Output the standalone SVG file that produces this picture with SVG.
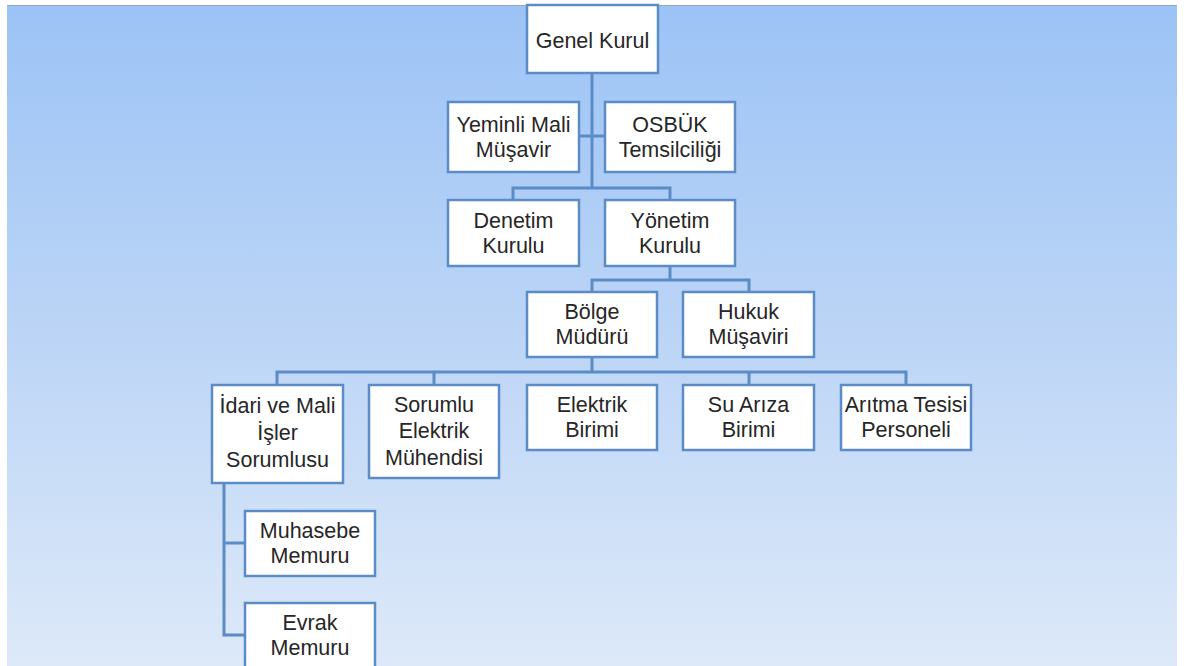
<svg xmlns="http://www.w3.org/2000/svg" width="1184" height="666" viewBox="0 0 1184 666">
<defs>
<linearGradient id="bg" x1="0" y1="0" x2="0" y2="1">
<stop offset="0" stop-color="#9cc3f6"/>
<stop offset="0.5" stop-color="#bcd5f6"/>
<stop offset="1" stop-color="#dde9f9"/>
</linearGradient>
<style>
.box{fill:#ffffff;stroke:#5b8cc6;stroke-width:2.5}
.ln{fill:none;stroke:#5b8cc6;stroke-width:3}
text{font-family:"Liberation Sans",Arial,sans-serif;font-size:21.5px;fill:#262626;text-anchor:middle}
</style>
</defs>
<rect x="0" y="0" width="1184" height="666" fill="#ffffff"/>
<rect x="7" y="5" width="1170" height="661" fill="url(#bg)"/>
<line x1="7" y1="5.5" x2="1177" y2="5.5" stroke="#9aa6b4" stroke-width="1"/>
<g id="connectors">
<path class="ln" d="M592,73 V188 M579,136 H605 M513,200 V188 H670 V200"/>
<path class="ln" d="M670,266 V280 M592,292 V280 H749 V292"/>
<path class="ln" d="M592,357 V372 M277,385 V372 H906 V385 M434,372 V385 M749,372 V385"/>
<path class="ln" d="M224,483 V635 H245 M224,543 H245"/>
</g>
<g id="genel-kurul"><rect class="box" x="527" y="5" width="131" height="68"/><text x="592.5" y="48">Genel Kurul</text></g>
<g id="yeminli-mali-musavir"><rect class="box" x="448" y="102" width="131" height="70"/><text x="513.5" y="132">Yeminli Mali</text><text x="513.5" y="157">Müşavir</text></g>
<g id="osbuk-temsilciligi"><rect class="box" x="605" y="102" width="130" height="70"/><text x="670" y="132">OSBÜK</text><text x="670" y="157">Temsilciliği</text></g>
<g id="denetim-kurulu"><rect class="box" x="448" y="200" width="131" height="66"/><text x="513.5" y="228">Denetim</text><text x="513.5" y="253">Kurulu</text></g>
<g id="yonetim-kurulu"><rect class="box" x="605" y="200" width="130" height="66"/><text x="670" y="228">Yönetim</text><text x="670" y="253">Kurulu</text></g>
<g id="bolge-muduru"><rect class="box" x="527" y="292" width="130" height="65"/><text x="592" y="319">Bölge</text><text x="592" y="344">Müdürü</text></g>
<g id="hukuk-musaviri"><rect class="box" x="683" y="292" width="131" height="65"/><text x="748.5" y="319">Hukuk</text><text x="748.5" y="344">Müşaviri</text></g>
<g id="idari-mali-isler"><rect class="box" x="212" y="385" width="131" height="98"/><text x="277.5" y="413">İdari ve Mali</text><text x="277.5" y="440">İşler</text><text x="277.5" y="467">Sorumlusu</text></g>
<g id="sorumlu-elektrik-muhendisi"><rect class="box" x="369" y="385" width="130" height="93"/><text x="434" y="412">Sorumlu</text><text x="434" y="438">Elektrik</text><text x="434" y="465">Mühendisi</text></g>
<g id="elektrik-birimi"><rect class="box" x="527" y="385" width="130" height="65"/><text x="592" y="412">Elektrik</text><text x="592" y="437">Birimi</text></g>
<g id="su-ariza-birimi"><rect class="box" x="683" y="385" width="131" height="65"/><text x="748.5" y="412">Su Arıza</text><text x="748.5" y="437">Birimi</text></g>
<g id="aritma-tesisi-personeli"><rect class="box" x="841" y="385" width="130" height="65"/><text x="906" y="412">Arıtma Tesisi</text><text x="906" y="437">Personeli</text></g>
<g id="muhasebe-memuru"><rect class="box" x="245" y="511" width="130" height="65"/><text x="310" y="538">Muhasebe</text><text x="310" y="563">Memuru</text></g>
<g id="evrak-memuru"><rect class="box" x="245" y="603" width="130" height="70"/><text x="310" y="630">Evrak</text><text x="310" y="655">Memuru</text></g>
</svg>
